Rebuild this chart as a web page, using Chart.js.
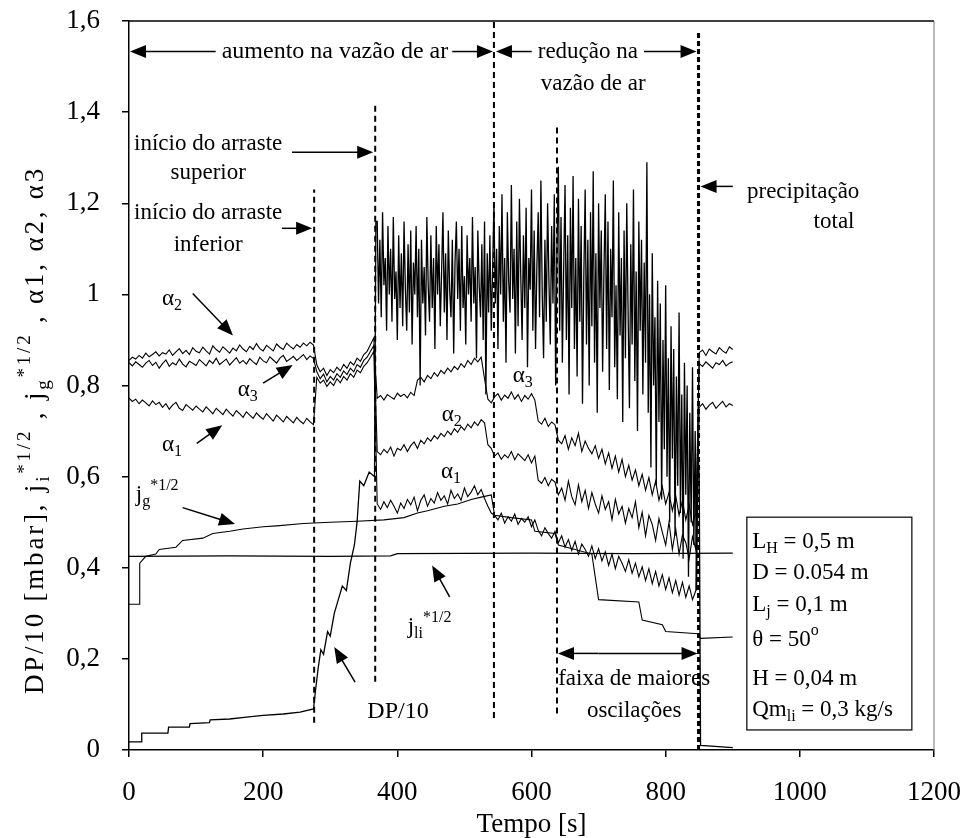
<!DOCTYPE html>
<html>
<head>
<meta charset="utf-8">
<script src="https://cdn.jsdelivr.net/npm/chart.js@4.4.0/dist/chart.umd.min.js"></script>
<style>
  html, body { margin: 0; padding: 0; background: #fff; }
  #c { display: block; }
</style>
</head>
<body>
<canvas id="c" width="963" height="838" style="width:963px;height:838px"></canvas>
<script>
// ---- data ----
var xTicks = [0, 200, 400, 600, 800, 1000, 1200];
var yTicks = [0, 0.2, 0.4, 0.6, 0.8, 1, 1.2, 1.4, 1.6];

// j_li*1/2 (flat)
var jliTime  = [0, 150, 300, 390, 400, 600, 750, 900];
var jliValue = [0.425, 0.426, 0.425, 0.426, 0.431, 0.432, 0.431, 0.432];

// j_g*1/2 (staircase)
var jgTime  = [0, 15, 16, 25, 40, 45, 70, 80, 110, 125, 150, 170, 200, 220, 260, 300, 340, 380, 410, 430,
               445, 470, 490, 510, 525, 540, 545, 570, 600, 605, 635, 640, 665, 690, 700, 760, 765, 795, 800, 848,
               852, 900];
var jgValue = [0.32, 0.32, 0.41, 0.425, 0.43, 0.44, 0.445, 0.46, 0.465, 0.475, 0.48, 0.485, 0.49, 0.492, 0.497, 0.50, 0.502, 0.505, 0.51, 0.52,
               0.525, 0.535, 0.54, 0.55, 0.555, 0.56, 0.515, 0.51, 0.505, 0.48, 0.475, 0.45, 0.44, 0.43, 0.33, 0.325, 0.285, 0.275, 0.26, 0.255,
               0.245, 0.248];

// DP/10 before the band
var dpTime  = [0, 18, 19, 58, 59, 90, 91, 120, 121, 150, 175, 200, 230, 255, 275, 278, 282, 286, 290, 296,
               300, 306, 312, 318, 324, 330, 336, 340, 344, 350, 358, 366, 368];
var dpValue = [0.018, 0.018, 0.037, 0.037, 0.05, 0.05, 0.058, 0.06, 0.066, 0.068, 0.072, 0.076, 0.079, 0.083, 0.09, 0.13, 0.18, 0.22, 0.21, 0.26,
               0.25, 0.30, 0.33, 0.36, 0.35, 0.41, 0.45, 0.50, 0.59, 0.58, 0.61, 0.60, 1.16];
// DP/10 oscillation band, t = 370..850 every 2 s
var dpBand = [
  1.16,0.98,1.12,0.95,1.18,1.02,1.08,0.92,1.15,1.00,
  1.10,0.94,1.17,0.99,1.05,0.90,1.13,0.97,1.09,0.93,
  1.16,1.01,0.92,1.11,0.96,1.14,0.89,1.07,1.00,1.15,
  0.95,1.10,0.80,1.12,0.98,1.06,0.91,1.17,1.02,0.94,
  1.13,0.97,1.08,0.88,1.15,1.00,1.11,0.93,1.05,1.18,
  0.96,1.09,0.90,1.14,1.01,0.95,1.12,0.87,1.07,1.16,
  0.99,1.10,0.92,1.15,0.97,1.04,0.89,1.13,1.00,1.08,
  0.94,1.17,0.98,1.06,0.86,1.14,1.02,0.95,1.11,0.90,
  1.16,0.78,1.09,0.96,1.13,0.92,1.05,1.20,0.98,1.10,
  0.88,1.15,1.00,1.22,0.94,1.08,0.85,1.18,1.03,0.96,
  1.24,0.99,1.10,0.87,1.16,0.93,1.21,1.04,0.90,1.13,
  0.97,1.19,0.84,1.08,1.01,1.23,0.92,1.14,0.88,1.06,
  1.18,0.95,1.25,1.00,0.86,1.12,0.94,1.20,1.03,0.89,
  1.15,0.98,1.22,0.80,1.10,1.28,0.92,1.17,0.85,1.06,
  1.24,0.90,1.13,0.78,1.19,0.97,1.26,0.88,1.08,0.82,
  1.21,0.94,1.15,0.76,1.04,1.23,0.89,1.12,0.80,1.18,
  0.93,1.27,0.85,1.09,0.74,1.20,0.97,1.14,0.83,1.05,
  1.22,0.88,1.16,0.79,1.10,0.95,1.25,0.84,1.02,0.77,
  1.18,0.91,1.08,0.72,1.14,0.86,1.20,0.96,0.75,1.11,
  0.89,1.23,0.81,1.05,0.70,1.16,0.92,1.12,0.78,1.07,
  0.85,1.29,0.74,1.00,0.62,1.09,0.80,0.95,0.58,1.03,
  0.72,0.98,0.55,0.90,0.66,1.02,0.60,0.86,0.50,0.93,
  0.64,0.88,0.47,0.82,0.58,0.96,0.52,0.78,0.42,0.85,
  0.56,0.80,0.38,0.74,0.50,0.84,0.45,0.70,0.35,0.66,
  0.60];
var dpTailTime  = [852, 900];
var dpTailValue = [0.01, 0.005];

// alpha series, every 5 s: A 0-275, B 280-365, C 370-540, D 545-845, E 850-900
var alpha2A = [0.855,0.862,0.858,0.866,0.860,0.871,0.863,0.868,0.874,0.865,
  0.872,0.869,0.878,0.866,0.874,0.881,0.870,0.877,0.868,0.883,
  0.875,0.872,0.884,0.876,0.869,0.887,0.879,0.873,0.885,0.878,
  0.871,0.882,0.876,0.889,0.880,0.874,0.886,0.879,0.892,0.881,
  0.876,0.888,0.882,0.876,0.891,0.884,0.879,0.893,0.886,0.880,
  0.890,0.884,0.893,0.887,0.895,0.889];
var alpha2B = [0.845,0.830,0.838,0.822,0.835,0.828,0.840,0.832,0.846,0.838,0.852,0.845,0.860,0.853,0.868,0.875,0.890,0.905];
var alpha2C = [0.655,0.648,0.660,0.652,0.665,0.645,0.662,0.658,0.670,0.655,
  0.668,0.676,0.662,0.680,0.672,0.685,0.678,0.690,0.683,0.695,
  0.688,0.700,0.692,0.705,0.697,0.710,0.702,0.715,0.707,0.720,
  0.712,0.725,0.718,0.670,0.662];
var alpha2D = [0.645,0.652,0.638,0.648,0.641,0.655,0.637,0.650,0.643,0.635,
  0.648,0.630,0.645,0.592,0.585,0.598,0.580,0.594,0.588,0.560,
  0.575,0.548,0.590,0.556,0.538,0.582,0.545,0.570,0.530,0.565,
  0.540,0.520,0.558,0.528,0.545,0.505,0.550,0.518,0.535,0.498,
  0.530,0.510,0.545,0.488,0.522,0.470,0.515,0.495,0.460,0.508,
  0.478,0.450,0.500,0.440,0.485,0.430,0.472,0.455,0.420,0.468,
  0.440];
var alpha2E = [0.872,0.878,0.866,0.880,0.874,0.869,0.883,0.876,0.871,0.885,0.879];

var alpha3A = [0.850,0.843,0.852,0.846,0.840,0.849,0.855,0.844,0.851,0.838,
  0.848,0.856,0.842,0.850,0.845,0.858,0.847,0.841,0.853,0.849,
  0.844,0.857,0.850,0.843,0.855,0.848,0.860,0.846,0.852,0.858,
  0.845,0.853,0.861,0.849,0.855,0.847,0.859,0.852,0.846,0.862,
  0.854,0.850,0.863,0.856,0.849,0.860,0.866,0.853,0.858,0.864,
  0.855,0.861,0.868,0.857,0.865,0.859];
var alpha3B = [0.830,0.815,0.825,0.808,0.820,0.812,0.826,0.818,0.832,0.824,0.838,0.830,0.846,0.840,0.855,0.862,0.875,0.888];
var alpha3C = [0.772,0.778,0.768,0.780,0.775,0.770,0.783,0.776,0.781,0.773,
  0.785,0.778,0.812,0.818,0.808,0.822,0.815,0.828,0.820,0.833,
  0.826,0.838,0.830,0.842,0.835,0.848,0.840,0.855,0.846,0.860,
  0.852,0.862,0.815,0.770,0.762];
var alpha3D = [0.775,0.782,0.768,0.779,0.772,0.786,0.770,0.780,0.765,0.778,
  0.770,0.782,0.768,0.722,0.715,0.728,0.710,0.720,0.714,0.680,
  0.672,0.690,0.660,0.685,0.668,0.695,0.655,0.678,0.662,0.650,
  0.668,0.640,0.660,0.628,0.652,0.618,0.645,0.610,0.638,0.600,
  0.625,0.592,0.615,0.580,0.605,0.570,0.598,0.560,0.590,0.548,
  0.578,0.540,0.565,0.525,0.558,0.515,0.548,0.505,0.538,0.495,
  0.520];
var alpha3E = [0.848,0.842,0.852,0.845,0.838,0.850,0.846,0.855,0.843,0.849,0.852];

var alpha1A = [0.772,0.765,0.770,0.760,0.768,0.762,0.755,0.766,0.758,0.763,
  0.752,0.760,0.748,0.757,0.763,0.750,0.745,0.758,0.752,0.746,
  0.755,0.748,0.742,0.753,0.746,0.738,0.750,0.743,0.736,0.748,
  0.740,0.733,0.745,0.738,0.730,0.742,0.735,0.728,0.740,0.732,
  0.726,0.738,0.730,0.722,0.735,0.728,0.720,0.732,0.725,0.718,
  0.730,0.722,0.716,0.728,0.720,0.714];
var alpha1B = [0.818,0.805,0.812,0.798,0.808,0.800,0.815,0.806,0.820,0.812,0.826,0.818,0.834,0.828,0.842,0.850,0.862,0.875];
var alpha1C = [0.540,0.528,0.545,0.532,0.548,0.535,0.520,0.542,0.530,0.550,
  0.538,0.555,0.525,0.548,0.560,0.535,0.552,0.542,0.565,0.548,
  0.558,0.540,0.570,0.552,0.562,0.548,0.575,0.556,0.566,0.580,
  0.560,0.572,0.552,0.535,0.520];
var alpha1D = [0.515,0.505,0.520,0.498,0.512,0.502,0.518,0.495,0.508,0.500,
  0.512,0.490,0.505,0.482,0.470,0.488,0.475,0.465,0.480,0.455,
  0.470,0.445,0.462,0.438,0.458,0.430,0.452,0.440,0.425,0.448,
  0.420,0.442,0.415,0.435,0.405,0.430,0.398,0.425,0.410,0.392,
  0.418,0.388,0.410,0.380,0.402,0.372,0.398,0.365,0.392,0.360,
  0.385,0.352,0.378,0.345,0.372,0.340,0.368,0.335,0.360,0.330,
  0.350];
var alpha1E = [0.752,0.760,0.748,0.757,0.763,0.750,0.758,0.765,0.753,0.760,0.756];

// vertical dashed event lines
var eventTime   = [276, 367, 544, 638, 849];
var eventBottom = [0.06, 0.15, 0.07, 0.08, 0.0];
var eventTop    = [1.23, 1.42, 1.6, 1.37, 1.58];

// ---- helpers ----
function seq(start, step, values) {
    return values.map(function (v, i) { return { x: start + i * step, y: v }; });
}
function pairs(times, values) {
    return times.map(function (t, i) { return { x: t, y: values[i] }; });
}
function alphaSeries(a, b, c, d, e) {
    return seq(0, 5, a).concat(seq(280, 5, b), seq(370, 5, c), seq(545, 5, d), seq(850, 5, e));
}

var SERIF = '"Liberation Serif", "DejaVu Serif", serif';

function lineSet(data, width) {
    return { data: data, borderColor: '#000', borderWidth: width || 1, pointRadius: 0, fill: false, tension: 0 };
}

var datasets = [
    lineSet(pairs(jliTime, jliValue), 1.2),
    lineSet(pairs(jgTime, jgValue), 1.1),
    lineSet(pairs(dpTime, dpValue).concat(seq(370, 2, dpBand), pairs(dpTailTime, dpTailValue)), 1.3),
    lineSet(alphaSeries(alpha2A, alpha2B, alpha2C, alpha2D, alpha2E), 1.1),
    lineSet(alphaSeries(alpha3A, alpha3B, alpha3C, alpha3D, alpha3E), 1.1),
    lineSet(alphaSeries(alpha1A, alpha1B, alpha1C, alpha1D, alpha1E), 1.1)
];
eventTime.forEach(function (t, i) {
    var ds = lineSet([{ x: t, y: eventBottom[i] }, { x: t, y: eventTop[i] }], i === 4 ? 3 : 2);
    ds.borderDash = i === 4 ? [5, 3] : [6, 4];
    datasets.push(ds);
});

function fontFor(kind, size) {
    var s = kind === 'sub' || kind === 'sup' ? Math.round(size * 0.7) : size;
    return s + 'px ' + SERIF;
}
function rich(ctx, parts, x, y, align, size) {
    var widths = parts.map(function (p) { ctx.font = fontFor(p[1], size); return ctx.measureText(p[0]).width; });
    var total = widths.reduce(function (a, b) { return a + b; }, 0);
    var cx = align === 'center' ? x - total / 2 : (align === 'right' ? x - total : x);
    ctx.textAlign = 'left';
    ctx.textBaseline = 'middle';
    parts.forEach(function (p, i) {
        ctx.font = fontFor(p[1], size);
        var dy = p[1] === 'sub' ? size * 0.3 : (p[1] === 'sup' ? -size * 0.4 : 0);
        ctx.fillText(p[0], cx, y + dy);
        cx += widths[i];
    });
    return total;
}
function arrow(ctx, x1, y1, x2, y2) {
    var a = Math.atan2(y2 - y1, x2 - x1), L = 16, W = 6.5;
    ctx.beginPath();
    ctx.moveTo(x1, y1);
    ctx.lineTo(x2 - L * 0.8 * Math.cos(a), y2 - L * 0.8 * Math.sin(a));
    ctx.stroke();
    ctx.beginPath();
    ctx.moveTo(x2, y2);
    ctx.lineTo(x2 - L * Math.cos(a) + W * Math.sin(a), y2 - L * Math.sin(a) - W * Math.cos(a));
    ctx.lineTo(x2 - L * Math.cos(a) - W * Math.sin(a), y2 - L * Math.sin(a) + W * Math.cos(a));
    ctx.closePath();
    ctx.fill();
}

// frame, axis title and all the annotations
var annotations = {
    id: 'annotations',
    afterDatasetsDraw: function (chart) {
        var ctx = chart.ctx, a = chart.chartArea;
        var X = function (t) { return chart.scales.x.getPixelForValue(t); };
        var Y = function (v) { return chart.scales.y.getPixelForValue(v); };
        var FS = 23;

        ctx.save();
        ctx.fillStyle = '#000';
        ctx.strokeStyle = '#000';

        // frame: top solid, right faint
        ctx.lineWidth = 1.5;
        ctx.beginPath(); ctx.moveTo(a.left, a.top); ctx.lineTo(a.right, a.top); ctx.stroke();
        ctx.strokeStyle = '#777';
        ctx.lineWidth = 1;
        ctx.beginPath(); ctx.moveTo(a.right, a.top); ctx.lineTo(a.right, a.bottom); ctx.stroke();
        ctx.strokeStyle = '#000';
        ctx.lineWidth = 1.5;

        // y axis title
        ctx.save();
        ctx.translate(36, 430);
        ctx.rotate(-Math.PI / 2);
        ctx.letterSpacing = '2.8px';
        rich(ctx, [['DP/10 [mbar], j', ''], ['i', 'sub'], ['*1/2', 'sup'], [' , j', ''], ['g', 'sub'], ['*1/2', 'sup'],
                   [' , \u03b11, \u03b12, \u03b13', '']], 0, 0, 'center', 27);
        ctx.letterSpacing = '0px';
        ctx.restore();

        // top row: aumento / reducao
        var cx = X(307), cy = Y(1.533);
        var w = rich(ctx, [['aumento na vaz\u00e3o de ar', '']], cx, cy, 'center', 24);
        arrow(ctx, cx - w / 2 - 6, cy, X(0) + 1, cy);
        arrow(ctx, cx + w / 2 + 4, cy, X(544) - 1, cy);
        cx = X(684);
        w = rich(ctx, [['redu\u00e7\u00e3o na', '']], cx, cy, 'center', FS);
        arrow(ctx, cx - w / 2 - 6, cy, X(544) + 2, cy);
        arrow(ctx, cx + w / 2 + 6, cy, X(849) - 2, cy);
        rich(ctx, [['vaz\u00e3o de ar', '']], X(692), Y(1.461), 'center', FS);

        // inicio do arraste superior / inferior
        rich(ctx, [['in\u00edcio do arraste', '']], X(118), Y(1.331), 'center', FS);
        rich(ctx, [['superior', '']], X(118), Y(1.266), 'center', FS);
        arrow(ctx, X(243), Y(1.312), X(367) - 2, Y(1.312));
        rich(ctx, [['in\u00edcio do arraste', '']], X(118), Y(1.178), 'center', FS);
        rich(ctx, [['inferior', '']], X(118), Y(1.108), 'center', FS);
        arrow(ctx, X(228), Y(1.145), X(276) - 2, Y(1.145));

        // precipitacao total
        rich(ctx, [['precipita\u00e7\u00e3o', '']], X(1005), Y(1.224), 'center', FS);
        rich(ctx, [['total', '']], X(1051), Y(1.158), 'center', FS);
        arrow(ctx, X(900), Y(1.237), X(849) + 2, Y(1.237));

        // alpha labels
        rich(ctx, [['\u03b1', ''], ['2', 'sub']], X(64), Y(0.991), 'center', FS);
        arrow(ctx, X(95), Y(1.002), X(155), Y(0.91));
        rich(ctx, [['\u03b1', ''], ['3', 'sub']], X(177), Y(0.79), 'center', FS);
        arrow(ctx, X(200), Y(0.805), X(244), Y(0.845));
        rich(ctx, [['\u03b1', ''], ['1', 'sub']], X(64), Y(0.669), 'center', FS);
        arrow(ctx, X(101), Y(0.673), X(139), Y(0.713));
        rich(ctx, [['\u03b1', ''], ['3', 'sub']], X(587), Y(0.82), 'center', FS);
        rich(ctx, [['\u03b1', ''], ['2', 'sub']], X(481), Y(0.735), 'center', FS);
        rich(ctx, [['\u03b1', ''], ['1', 'sub']], X(480), Y(0.61), 'center', FS);

        // j_g and j_li labels
        rich(ctx, [['j', ''], ['g', 'sub'], ['*1/2', 'sup']], X(42), Y(0.56), 'center', FS);
        arrow(ctx, X(80), Y(0.532), X(158), Y(0.496));
        rich(ctx, [['j', ''], ['li', 'sub'], ['*1/2', 'sup']], X(448), Y(0.27), 'center', FS);
        arrow(ctx, X(478), Y(0.336), X(452), Y(0.405));

        // DP/10 label
        rich(ctx, [['DP/10', '']], X(401), Y(0.083), 'center', 24);
        arrow(ctx, X(337), Y(0.149), X(306), Y(0.226));

        // faixa de maiores oscilacoes
        var y1 = Y(0.212);
        arrow(ctx, X(700), y1, X(638) + 1, y1);
        arrow(ctx, X(700), y1, X(849) - 1, y1);
        rich(ctx, [['faixa de maiores', '']], X(753), Y(0.156), 'center', FS);
        rich(ctx, [['oscila\u00e7\u00f5es', '']], X(753), Y(0.086), 'center', FS);

        // parameter box
        var bx = X(921), by = Y(0.511);
        ctx.fillStyle = '#fff';
        ctx.fillRect(bx, by, X(1167) - bx, Y(0.044) - by);
        ctx.fillStyle = '#000';
        ctx.lineWidth = 1.2;
        ctx.strokeRect(bx, by, X(1167) - bx, Y(0.044) - by);
        var tx = X(929);
        rich(ctx, [['L', ''], ['H', 'sub'], [' = 0,5 m', '']], tx, Y(0.456), 'left', FS);
        rich(ctx, [['D = 0.054 m', '']], tx, Y(0.388), 'left', FS);
        rich(ctx, [['L', ''], ['j', 'sub'], [' = 0,1 m', '']], tx, Y(0.318), 'left', FS);
        rich(ctx, [['\u03b8 = 50', ''], ['o', 'sup']], tx, Y(0.241), 'left', FS);
        rich(ctx, [['H = 0,04 m', '']], tx, Y(0.156), 'left', FS);
        rich(ctx, [['Qm', ''], ['li', 'sub'], [' = 0,3 kg/s', '']], tx, Y(0.088), 'left', FS);

        ctx.restore();
    }
};

function noPad(s) {
    s.paddingLeft = 0; s.paddingRight = 0; s.paddingTop = 0; s.paddingBottom = 0;
}

new Chart(document.getElementById('c').getContext('2d'), {
    type: 'line',
    data: { datasets: datasets },
    options: {
        responsive: false,
        animation: false,
        devicePixelRatio: 1,
        layout: { padding: { left: 0, right: 29, top: 21, bottom: 0 } },
        plugins: { legend: { display: false }, tooltip: { enabled: false } },
        scales: {
            x: {
                type: 'linear',
                min: 0, max: 1200,
                afterBuildTicks: function (s) { s.ticks = xTicks.map(function (v) { return { value: v }; }); },
                afterFit: function (s) { s.height = 88; noPad(s); },
                ticks: { color: '#000', font: { family: SERIF, size: 27 }, padding: 20, maxRotation: 0,
                         callback: function (v) { return String(v); } },
                grid: { drawOnChartArea: false, drawTicks: true, tickLength: 7, color: '#000', lineWidth: 1.5 },
                border: { color: '#000', width: 1.5 },
                title: { display: true, text: 'Tempo [s]', color: '#000',
                         font: { family: SERIF, size: 27, lineHeight: 1 }, padding: { top: 0, bottom: 0 } }
            },
            y: {
                type: 'linear',
                min: 0, max: 1.6,
                afterBuildTicks: function (s) { s.ticks = yTicks.map(function (v) { return { value: v }; }); },
                afterFit: function (s) { s.width = 129; noPad(s); },
                ticks: {
                    color: '#000', font: { family: SERIF, size: 27 }, padding: 22,
                    callback: function (v) {
                        if (Math.abs(v - Math.round(v)) < 1e-9) return String(Math.round(v));
                        return v.toFixed(1).replace('.', ',');
                    }
                },
                grid: { drawOnChartArea: false, drawTicks: true, tickLength: 7, color: '#000', lineWidth: 1.5 },
                border: { color: '#000', width: 1.5 }
            }
        }
    },
    plugins: [annotations]
});
</script>
</body>
</html>
